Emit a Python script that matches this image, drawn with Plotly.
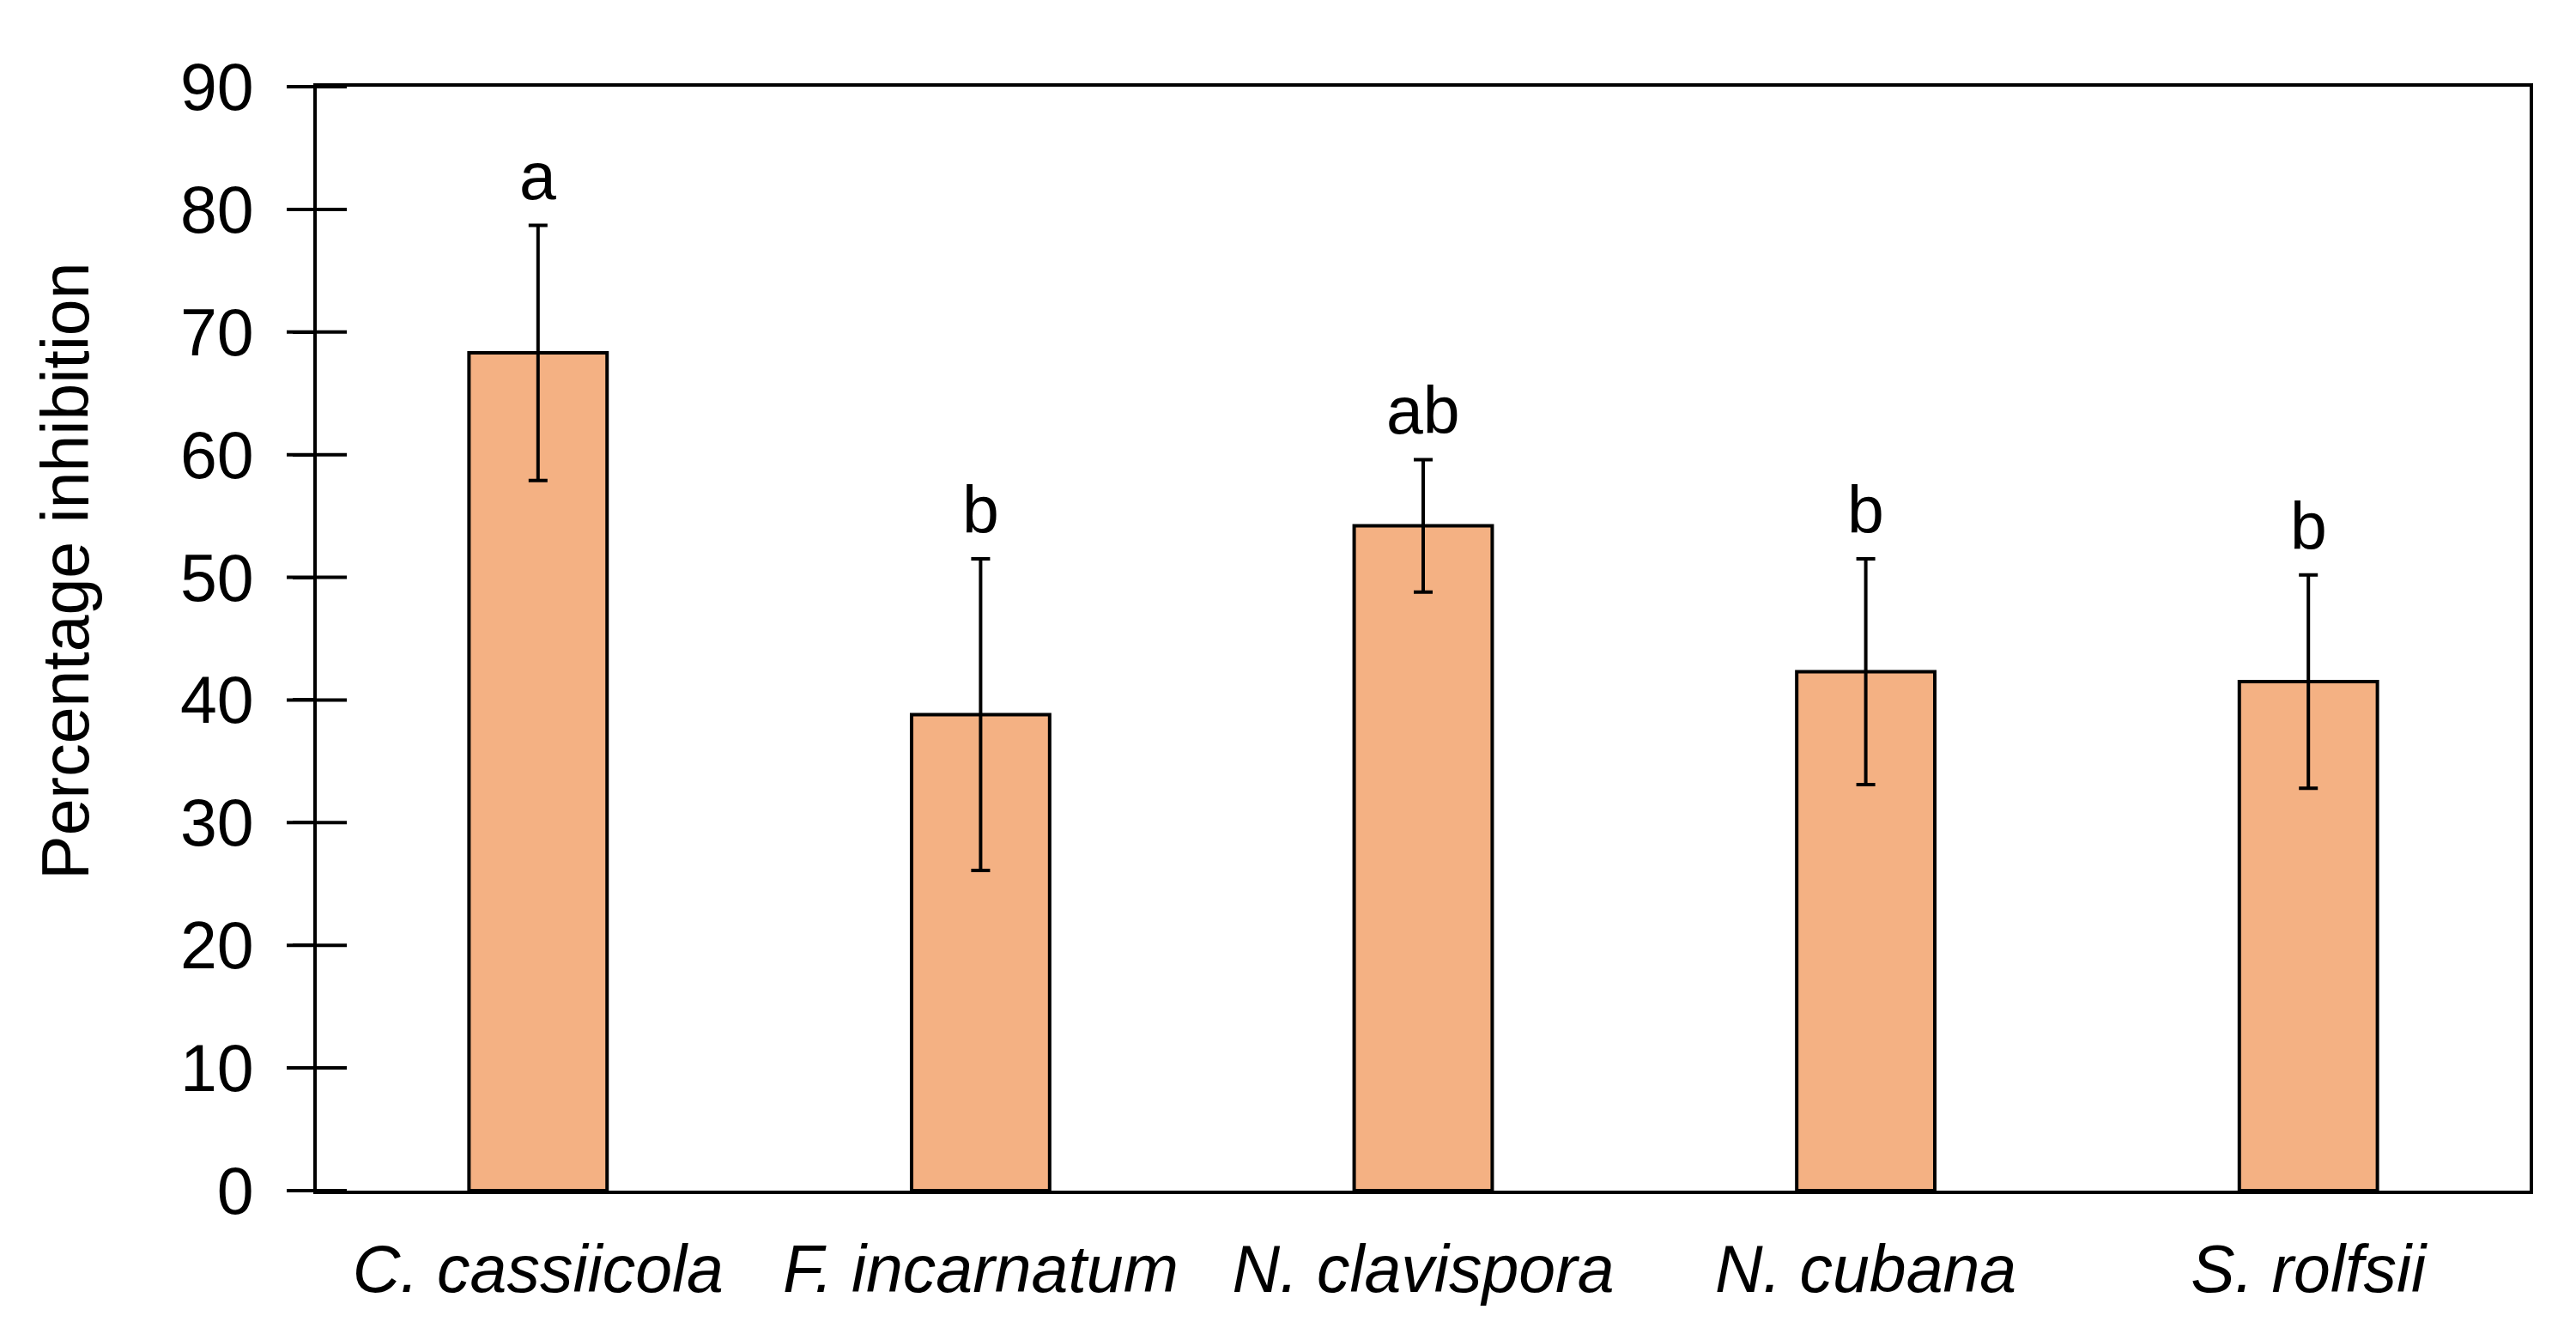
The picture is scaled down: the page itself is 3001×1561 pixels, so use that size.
import plotly.graph_objects as go

# 데이터
species = ['C. cassiicola', 'F. incarnatum', 'N. clavispora', 'N. cubana', 'S. rolfsii']
inhibition = [68.3, 38.8, 54.2, 42.3, 41.5]
err = [10.4, 12.7, 5.4, 9.2, 8.7]
letters = ['a', 'b', 'ab', 'b', 'b']
y_ticks = [0, 10, 20, 30, 40, 50, 60, 70, 80, 90]

FONT = 'Liberation Sans, Arial, sans-serif'
FS = 77

fig = go.Figure()
fig.add_trace(go.Bar(
    x=species, y=inhibition,
    marker=dict(color='#F4B183', line=dict(color='black', width=4)),
    error_y=dict(type='data', array=err, visible=True,
                 color='black', thickness=4, width=11),
    showlegend=False,
))

# 축을 가로지르는 눈금: x2(0~1) 의 0 위치에 가로선 마커
fig.add_trace(go.Scatter(
    x=[0] * len(y_ticks), y=y_ticks, xaxis='x2', mode='markers',
    marker=dict(symbol='line-ew', size=50, color='black',
                line=dict(color='black', width=4)),
    cliponaxis=False, showlegend=False, hoverinfo='skip',
))

# 유의성 문자
for sp, v, e, t in zip(species, inhibition, err, letters):
    fig.add_annotation(x=sp, y=v + e, text=t, showarrow=False,
                       xanchor='center', yanchor='bottom', yshift=12,
                       font=dict(family=FONT, size=FS, color='black'))

# y축 제목
fig.add_annotation(xref='paper', yref='paper', x=-0.114, y=0.561,
                   text='Percentage inhibition', textangle=-90,
                   showarrow=False, xanchor='center', yanchor='middle',
                   font=dict(family=FONT, size=FS, color='black'))

# body margin(8px) 보정해서 크기 설정
fig.update_layout(
    width=2985, height=1545,
    margin=dict(l=361, r=46, t=93, b=166),
    paper_bgcolor='white', plot_bgcolor='white',
    bargap=0.688,
    font=dict(family=FONT, size=FS, color='black'),
    xaxis=dict(
        showline=True, linecolor='black', linewidth=4, mirror=True,
        ticks='', showgrid=False,
        tickfont=dict(family=FONT, size=FS, color='black', style='italic'),
        ticklabelstandoff=22,
    ),
    xaxis2=dict(range=[0, 1], overlaying='x', anchor='y', visible=False),
    yaxis=dict(
        range=[0, 90], tickvals=y_ticks,
        showline=True, linecolor='black', linewidth=4, mirror=True,
        ticks='outside', ticklen=24, tickwidth=4, tickcolor='black',
        showgrid=False, zeroline=False,
        tickfont=dict(family=FONT, size=FS, color='black'),
        ticklabelstandoff=30,
    ),
)

fig.write_html('out.html')
